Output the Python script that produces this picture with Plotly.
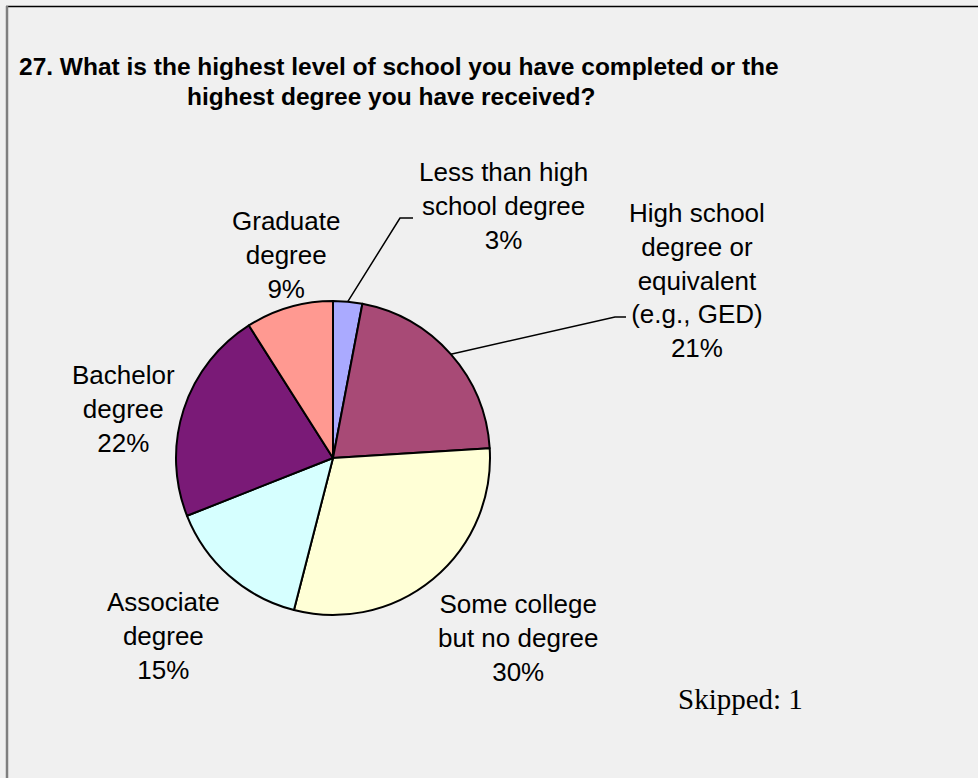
import math
import plotly.graph_objects as go

# Survey question 27: highest level of schooling completed
categories = [
    "Less than high school degree",
    "High school degree or equivalent (e.g., GED)",
    "Some college but no degree",
    "Associate degree",
    "Bachelor degree",
    "Graduate degree",
]
label_lines = [
    ["Less than high", "school degree"],
    ["High school", "degree or", "equivalent", "(e.g., GED)"],
    ["Some college", "but no degree"],
    ["Associate", "degree"],
    ["Bachelor", "degree"],
    ["Graduate", "degree"],
]
values = [3, 21, 30, 15, 22, 9]
colors = ["#AAAAFF", "#A84A76", "#FFFFD6", "#D6FFFF", "#7A1A77", "#FF9991"]

title_line1 = "27. What is the highest level of school you have completed or the"
title_line2 = "highest degree you have received?"
skipped_text = "Skipped: 1"

W, H = 978, 778
BG = "#F0F0F0"

# pie placement in pixels
cx, cy, r = 333, 458, 157

# label centres (px) and leader-line elbows (px), one per slice; None = no leader line
label_pos = [(503, 206), (697, 280), (518, 638), (163, 636), (123, 409), (286, 255)]
leader_elbow = [((400, 218), (413, 218)), ((615, 317), (626, 317)), None, None, None, None]


def px(x):
    return x / W


def py(y):
    return 1 - y / H


fig = go.Figure()
fig.add_trace(go.Pie(
    labels=categories,
    values=values,
    sort=False,
    direction="clockwise",
    rotation=0,
    textinfo="none",
    hoverinfo="label+percent",
    marker=dict(colors=colors, line=dict(color="#000000", width=2)),
    domain=dict(x=[px(cx - r), px(cx + r)], y=[py(cy + r), py(cy - r)]),
    showlegend=False,
))

total = sum(values)
annotations = []
shapes = []
cum = 0.0
for i, v in enumerate(values):
    mid = (cum + v / 2) / total * 2 * math.pi
    cum += v
    pct = round(v / total * 100)
    text = "<br>".join(label_lines[i] + [f"{pct}%"])
    lx, ly = label_pos[i]
    annotations.append(dict(
        x=px(lx), y=py(ly), xref="paper", yref="paper",
        text=text, showarrow=False, align="center",
        xanchor="center", yanchor="middle",
        font=dict(family="Liberation Sans, Arial, sans-serif", size=26, color="#000000"),
    ))
    if leader_elbow[i] is not None:
        ex = cx + r * math.sin(mid)
        ey = cy - r * math.cos(mid)
        (bx, by), (tx, ty) = leader_elbow[i]
        path = f"M {px(ex)},{py(ey)} L {px(bx)},{py(by)} L {px(tx)},{py(ty)}"
        shapes.append(dict(type="path", xref="paper", yref="paper", path=path,
                           line=dict(color="#000000", width=1.5)))

# title
annotations.append(dict(
    x=px(17), y=py(66), xref="paper", yref="paper", text=title_line1,
    showarrow=False, xanchor="left", yanchor="middle",
    font=dict(family="Liberation Sans, Arial, sans-serif", size=24.5, color="#000000", weight="bold"),
))
annotations.append(dict(
    x=px(391), y=py(96), xref="paper", yref="paper", text=title_line2,
    showarrow=False, xanchor="center", yanchor="middle",
    font=dict(family="Liberation Sans, Arial, sans-serif", size=24.5, color="#000000", weight="bold"),
))
annotations.append(dict(
    x=px(740), y=py(699), xref="paper", yref="paper", text=skipped_text,
    showarrow=False, xanchor="center", yanchor="middle",
    font=dict(family="Liberation Serif, Times New Roman, serif", size=29, color="#000000"),
))

# frame lines
shapes.append(dict(type="line", xref="paper", yref="paper",
                   x0=px(6), y0=py(6.5), x1=1, y1=py(6.5),
                   line=dict(color="#000000", width=1.5)))
shapes.append(dict(type="line", xref="paper", yref="paper",
                   x0=px(7), y0=py(6), x1=px(7), y1=0,
                   line=dict(color="#7F7F7F", width=2.5)))

fig.update_layout(
    width=W, height=H,
    margin=dict(l=0, r=0, t=0, b=0),
    paper_bgcolor=BG, plot_bgcolor=BG,
    annotations=annotations,
    shapes=shapes,
)

fig.write_html("out.html")
